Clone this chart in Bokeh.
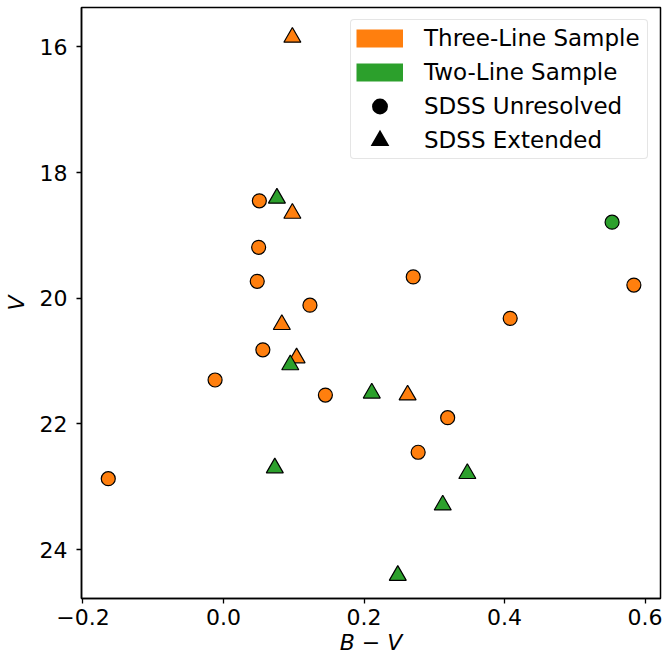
import math
from bokeh.plotting import figure
from bokeh.models import Range1d, FixedTicker, Legend, LegendItem, ColumnDataSource
from bokeh.transform import dodge
from bokeh.embed import file_html
from bokeh.resources import INLINE

# ---------------- data ----------------
three_unres_bv = [0.051, 0.050, 0.048, 0.123, 0.056, -0.012, 0.145, -0.164, 0.270, 0.408, 0.584, 0.319, 0.277]
three_unres_v = [18.45, 19.19, 19.73, 20.11, 20.82, 21.30, 21.54, 22.87, 19.66, 20.32, 19.79, 21.90, 22.45]

three_ext_bv = [0.098, 0.098, 0.083, 0.104, 0.262]
three_ext_v = [15.81, 18.61, 20.38, 20.91, 21.50]

two_unres_bv = [0.553]
two_unres_v = [18.79]

two_ext_bv = [0.076, 0.095, 0.073, 0.211, 0.347, 0.312, 0.248]
two_ext_v = [18.37, 21.02, 22.66, 21.47, 22.75, 23.25, 24.37]

x_ticks = [-0.2, 0.0, 0.2, 0.4, 0.6]
x_tick_labels = ["\u22120.2", "0.0", "0.2", "0.4", "0.6"]
y_ticks = [16, 18, 20, 22, 24]
y_tick_labels = ["16", "18", "20", "22", "24"]

x_title = "B \u2212 V"
y_title = "V"
legend_labels = ["Three-Line Sample", "Two-Line Sample", "SDSS Unresolved", "SDSS Extended"]

# ---------------- style ----------------
ORANGE = "#ff7f0e"
GREEN = "#2ca02c"
FONT = "DejaVu Sans"
X_LIM = (-0.2021, 0.6219)
Y_LIM = (24.776, 15.375)  # inverted magnitude axis
W, H = 663, 658
BL, BR, BT, BB = 77, 3, 7, 60
CIRC_SIZE = 14
TRI_SIZE = 17

p = figure(width=W, height=H,
           x_range=Range1d(*X_LIM), y_range=Range1d(*Y_LIM),
           min_border_left=BL, min_border_right=BR, min_border_top=BT, min_border_bottom=BB,
           output_backend="svg", toolbar_location=None, tools="")
p.grid.visible = False
p.outline_line_color = "black"
p.outline_line_width = 1.5
p.background_fill_color = "white"
p.border_fill_color = "white"

for ax in (p.xaxis[0], p.yaxis[0]):
    ax.axis_line_color = "black"
    ax.axis_line_width = 1.5
    ax.major_tick_line_color = "black"
    ax.major_tick_line_width = 1.3
    ax.major_tick_out = 5
    ax.major_tick_in = 0
    ax.minor_tick_line_color = None
    ax.major_label_text_font = FONT
    ax.major_label_text_font_size = "22px"
    ax.major_label_text_color = "black"
    ax.axis_label_text_font = FONT
    ax.axis_label_text_font_size = "22px"
    ax.axis_label_text_font_style = "italic"
    ax.axis_label_text_color = "black"

p.xaxis.ticker = FixedTicker(ticks=x_ticks)
p.xaxis.major_label_overrides = {t: s for t, s in zip(x_ticks, x_tick_labels)}
p.yaxis.ticker = FixedTicker(ticks=y_ticks)
p.yaxis.major_label_overrides = {t: s for t, s in zip(y_ticks, y_tick_labels)}
p.xaxis.axis_label = x_title
p.yaxis.axis_label = y_title
p.xaxis.major_label_standoff = 5
p.xaxis.axis_label_standoff = 2
p.yaxis.major_label_standoff = 9
p.yaxis.axis_label_standoff = 8

# triangles: shift so the triangle's bounding-box centre (not centroid) sits on the value
px_per_unit = (H - BT - BB) / abs(Y_LIM[0] - Y_LIM[1])
tri_shift = (TRI_SIZE / 2 * math.sqrt(3) / 6) / px_per_unit

src_tu = ColumnDataSource(dict(bv=three_unres_bv, v=three_unres_v))
src_te = ColumnDataSource(dict(bv=three_ext_bv, v=three_ext_v))
src_wu = ColumnDataSource(dict(bv=two_unres_bv, v=two_unres_v))
src_we = ColumnDataSource(dict(bv=two_ext_bv, v=two_ext_v))

p.scatter(x="bv", y="v", source=src_tu, marker="circle", size=CIRC_SIZE,
          fill_color=ORANGE, line_color="black", line_width=1.2)
p.scatter(x="bv", y=dodge("v", tri_shift), source=src_te, marker="triangle", size=TRI_SIZE,
          fill_color=ORANGE, line_color="black", line_width=1.2)
p.scatter(x="bv", y="v", source=src_wu, marker="circle", size=CIRC_SIZE,
          fill_color=GREEN, line_color="black", line_width=1.2)
p.scatter(x="bv", y=dodge("v", tri_shift), source=src_we, marker="triangle", size=TRI_SIZE,
          fill_color=GREEN, line_color="black", line_width=1.2)

# legend proxies (no data)
nan = [float("nan")]
lg_three = p.line(x=nan, y=nan, line_color=ORANGE, line_width=18, line_cap="butt")
lg_two = p.line(x=nan, y=nan, line_color=GREEN, line_width=18, line_cap="butt")
lg_unres = p.scatter(x=nan, y=nan, marker="circle", fill_color="black", line_color="black", line_width=5.5)
lg_ext = p.scatter(x=nan, y=nan, marker="triangle", fill_color="black", line_color="black",
                   line_width=4.8, line_join="miter")

legend = Legend(items=[LegendItem(label=lab, renderers=[r]) for lab, r in
                       zip(legend_labels, [lg_three, lg_two, lg_unres, lg_ext])],
                location="top_right", margin=12, padding=5, spacing=8,
                glyph_width=47, glyph_height=26, label_standoff=21, label_width=218,
                label_text_font=FONT, label_text_font_size="23px", label_text_color="black",
                border_line_color="#cccccc", border_line_width=1,
                background_fill_color="white", background_fill_alpha=0.8)
if "border_radius" in Legend.properties():
    legend.border_radius = 4
p.add_layout(legend)

open("out.html", "w").write(file_html(p, INLINE))
